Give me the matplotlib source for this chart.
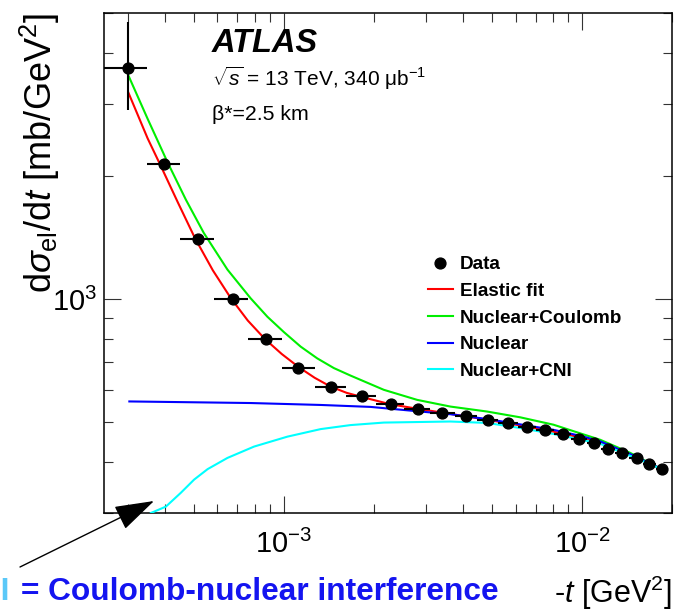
import numpy as np
import matplotlib
matplotlib.use("Agg")
import matplotlib.pyplot as plt
from matplotlib.lines import Line2D
from matplotlib.ticker import LogLocator, NullFormatter

plt.rcParams['font.family'] = ['Liberation Sans', 'DejaVu Sans']
plt.rcParams['mathtext.fontset'] = 'custom'
plt.rcParams['mathtext.rm'] = 'Liberation Sans'
plt.rcParams['mathtext.it'] = 'Liberation Sans:italic'
plt.rcParams['mathtext.bf'] = 'Liberation Sans:bold'

# data points (-t, dsigma/dt) and bin edges
t_data = [3.0e-4, 3.98e-4, 5.15e-4, 6.74e-4, 8.70e-4, 1.12e-3, 1.445e-3, 1.83e-3,
          2.28e-3, 2.81e-3, 3.40e-3, 4.09e-3, 4.82e-3, 5.66e-3, 6.53e-3, 7.52e-3,
          8.61e-3, 9.78e-3, 1.096e-2, 1.224e-2, 1.364e-2, 1.524e-2, 1.68e-2, 1.85e-2]
dsig = [3665, 2143, 1400, 1000, 798, 680, 611, 578, 555, 538, 526, 518,
        507, 498, 488, 478, 467, 456, 445, 431, 420, 409, 396, 384]
t_edges = [2.5e-4, 3.48e-4, 4.49e-4, 5.85e-4, 7.61e-4, 9.85e-4, 1.27e-3, 1.62e-3,
           2.04e-3, 2.525e-3, 3.10e-3, 3.76e-3, 4.46e-3, 5.24e-3, 6.11e-3, 7.02e-3,
           8.06e-3, 9.19e-3, 1.039e-2, 1.158e-2, 1.29e-2, 1.436e-2, 1.60e-2, 1.768e-2, 1.94e-2]
err_lo = [774, 40, 20, 12, 8, 6, 5, 4, 4, 4, 4, 4, 4, 4, 4, 4, 4, 4, 4, 4, 4, 4, 4, 4]
err_hi = [1100, 40, 20, 12, 8, 6, 5, 4, 4, 4, 4, 4, 4, 4, 4, 4, 4, 4, 4, 4, 4, 4, 4, 4]

# curves
t_fit = [3.02e-4, 3.5e-4, 3.88e-4, 4.42e-4, 5.04e-4, 5.79e-4, 6.65e-4, 7.58e-4, 8.66e-4,
         9.85e-4, 1.125e-3, 1.27e-3, 1.436e-3, 1.624e-3, 1.833e-3, 2.28e-3, 2.87e-3,
         3.62e-3, 4.80e-3, 6.20e-3, 8.02e-3, 1.0e-2, 1.149e-2, 1.3e-2, 1.447e-2, 1.6e-2, 1.85e-2]
fit = [3190, 2470, 2110, 1722, 1410, 1175, 1005, 886, 798,
       734, 681, 642, 611, 590, 576, 553, 538,
       524, 507, 491, 474, 458, 446, 433, 416, 402, 384]

t_nc = [3.0e-4, 3.5e-4, 4.08e-4, 4.70e-4, 5.40e-4, 6.48e-4, 7.75e-4, 8.82e-4, 1.002e-3,
        1.14e-3, 1.296e-3, 1.473e-3, 1.675e-3, 2.165e-3, 2.80e-3, 3.62e-3, 4.80e-3,
        6.20e-3, 8.02e-3, 1.0e-2, 1.149e-2, 1.447e-2, 1.84e-2]
nc = [3552, 2757, 2160, 1750, 1450, 1180, 1004, 905, 830,
      765, 716, 678, 650, 600, 567, 546, 531,
      514, 493, 468, 453, 421, 384]

t_nuc = [3.04e-4, 7.75e-4, 1.33e-3, 1.954e-3, 2.87e-3, 3.62e-3, 4.80e-3, 6.20e-3,
         8.02e-3, 1.0e-2, 1.149e-2, 1.447e-2, 1.85e-2]
nuc = [562, 557, 551, 545, 531, 523, 509, 494, 479, 462, 449, 418, 384]

t_cni = [3.59e-4, 4.03e-4, 4.52e-4, 5.01e-4, 5.56e-4, 6.48e-4, 7.96e-4, 1.029e-3, 1.33e-3,
         1.675e-3, 2.165e-3, 3.62e-3, 4.80e-3, 6.20e-3, 8.02e-3, 1.149e-2, 1.447e-2, 1.85e-2]
cni = [300, 311, 336, 362, 384, 409, 436, 461, 481,
       492, 499, 502, 498, 484, 468, 443, 414, 384]

fig = plt.figure(figsize=(6.88, 6.13), dpi=100)
ax = fig.add_axes([104/688, 1-513/613, 568/688, 500/613])
ax.set_xscale('log')
ax.set_yscale('log')

lw = 1.5
ax.plot(t_fit, fit, color='#ff0000', lw=lw, zorder=3)
ax.plot(t_nc, nc, color='#00ee00', lw=lw, zorder=3)
ax.plot(t_nuc, nuc, color='#0000ff', lw=lw, zorder=3)
ax.plot(t_cni, cni, color='#00ffff', lw=lw, zorder=3)

t_arr = np.array(t_data)
edges = np.array(t_edges)
xerr = [t_arr - edges[:-1], edges[1:] - t_arr]
ax.errorbar(t_data, dsig, xerr=xerr, yerr=[err_lo, err_hi], fmt='o', color='k',
            ms=7.8, elinewidth=1.5, capsize=0, zorder=4)

ax.set_xlim(2.5e-4, 2e-2)
ax.set_ylim(300, 5000)

for axis in (ax.xaxis, ax.yaxis):
    axis.set_major_locator(LogLocator(base=10, numticks=10))
    axis.set_minor_locator(LogLocator(base=10, subs=np.arange(2, 10), numticks=20))
    axis.set_minor_formatter(NullFormatter())

ax.tick_params(which='both', direction='in', top=True, right=True, width=0.8, color='#333333')
ax.tick_params(which='major', length=12)
ax.tick_params(which='minor', length=6.5)
ax.tick_params(axis='x', which='major', labelsize=21, pad=12)
ax.tick_params(axis='y', which='major', labelsize=21, pad=5)
for s in ax.spines.values():
    s.set_linewidth(1.1)

ax.set_ylabel(r'd$\sigma_{\mathrm{el}}$/d$t$ [mb/GeV$^{2}$]', fontsize=26, loc='top')
ax.yaxis.set_label_coords(-0.074, 1.0)
ax.set_xlabel(r'-$t$ [GeV$^{2}$]', fontsize=22, loc='right')
ax.xaxis.set_label_coords(1.0, -0.122)

fig.text(212/688, 1-52/613, 'ATLAS', fontsize=23.5, weight='bold', style='italic', va='baseline')
fig.text(212/688, 1-86/613, r'$\sqrt{s}$ = 13 TeV, 340 μb$^{-1}$', fontsize=15, va='baseline')
fig.text(212/688, 1-120/613, 'β*=2.5 km', fontsize=15.3, va='baseline')

handles = [Line2D([], [], marker='o', ls='none', color='k', ms=7.8),
           Line2D([], [], color='#ff0000', lw=lw),
           Line2D([], [], color='#00ee00', lw=lw),
           Line2D([], [], color='#0000ff', lw=lw),
           Line2D([], [], color='#00ffff', lw=lw)]
labels = ['Data', 'Elastic fit', 'Nuclear+Coulomb', 'Nuclear', 'Nuclear+CNI']
fig.legend(handles, labels, loc='upper left', bbox_to_anchor=(428/688, 1-256/613),
           frameon=False, prop={'weight': 'bold', 'size': 13.6}, handlelength=1.3,
           handletextpad=0.4, labelspacing=0.5, borderpad=0, borderaxespad=0)

fig.text(10/688, 1-592/613, 'CNI', fontsize=22.8, weight='bold', color='#5bc8f8',
         ha='right', va='center')
fig.text(21/688, 1-592/613, '= Coulomb-nuclear interference', fontsize=22.8, weight='bold',
         color='#1414f0', ha='left', va='center')
ax.annotate('', xy=(154/688, 1-501/613), xytext=(20/688, 1-567/613),
            xycoords='figure fraction', textcoords='figure fraction',
            arrowprops=dict(arrowstyle='-|>,head_length=2.5,head_width=0.8',
                            mutation_scale=10, lw=1, color='k', shrinkA=0, shrinkB=0),
            annotation_clip=False)

fig.savefig('out.png', dpi=100)
